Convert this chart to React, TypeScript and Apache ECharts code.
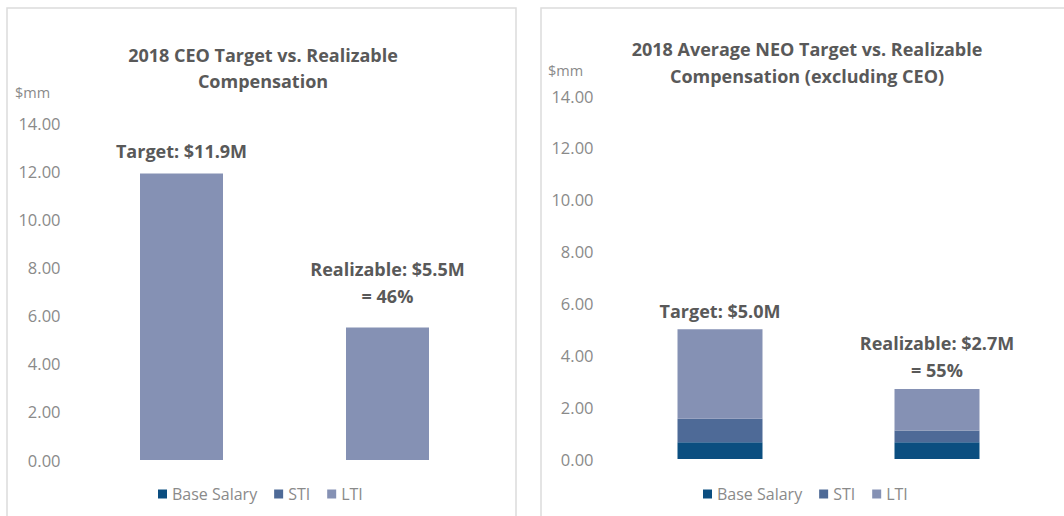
import React, { useEffect, useRef } from "react";
import * as echarts from "echarts";

const categories = ["Target", "Realizable"];
const seriesNames = ["Base Salary", "STI", "LTI"];

// CEO chart (single colour bars)
const ceoBase = [0, 0];
const ceoSti = [0, 0];
const ceoLti = [11.9, 5.5];
const ceoLabels = ["Target: $11.9M", "Realizable: $5.5M\n= 46%"];

// Average NEO chart
const neoBase = [0.65, 0.65];
const neoSti = [0.9, 0.45];
const neoLti = [3.45, 1.6];
const neoLabels = ["Target: $5.0M", "Realizable: $2.7M\n= 55%"];

const yTicks = { min: 0, max: 14, interval: 2 };

const colors = ["#0b4e80", "#4e6a97", "#8591b4"];
const FONT = "Open Sans";
const titleColor = "#595959";
const axisColor = "#8a8a8a";

export default function App() {
  const ref = useRef<HTMLDivElement>(null);
  useEffect(() => {
    if (!ref.current) return;
    const chart = echarts.init(ref.current, null, { renderer: "svg" });

    const mkSeries = (
      grid: number,
      stack: string,
      values: number[][],
      labels: string[],
      distances: number[]
    ) =>
      values.map((vals, i) => ({
        name: seriesNames[i],
        type: "bar",
        stack,
        xAxisIndex: grid,
        yAxisIndex: grid,
        barWidth: grid === 0 ? 83 : 85,
        itemStyle: { color: colors[i] },
        data: vals.map((v, j) =>
          i === values.length - 1
            ? {
                value: v,
                label: {
                  show: true,
                  position: "top",
                  distance: distances[j],
                  formatter: labels[j],
                  fontFamily: FONT,
                  fontWeight: "bold",
                  fontSize: 18,
                  lineHeight: 27,
                  color: titleColor,
                },
              }
            : v
        ),
      }));

    const mkX = (grid: number) => ({
      type: "category",
      gridIndex: grid,
      data: categories,
      axisLine: { show: false },
      axisTick: { show: false },
      axisLabel: { show: false },
    });
    const mkY = (grid: number) => ({
      type: "value",
      gridIndex: grid,
      min: yTicks.min,
      max: yTicks.max,
      interval: yTicks.interval,
      splitLine: { show: false },
      axisLine: { show: false },
      axisTick: { show: false },
      axisLabel: {
        formatter: (v: number) => v.toFixed(2),
        fontFamily: FONT,
        fontSize: 16.5,
        color: axisColor,
        margin: 18,
      },
    });

    const legendCommon = {
      data: seriesNames,
      icon: "rect",
      itemWidth: 9,
      itemHeight: 9,
      itemGap: 17,
      textStyle: { fontFamily: FONT, fontSize: 16, color: axisColor, padding: [0, 0, 0, 0] },
    };

    chart.setOption({
      animation: false,
      title: [
        {
          text: "2018 CEO Target vs. Realizable\nCompensation",
          left: 258,
          top: 37,
          textAlign: "center",
          textStyle: { fontFamily: FONT, fontWeight: "bold", fontSize: 18, lineHeight: 26, color: titleColor },
        },
        {
          text: "2018 Average NEO Target vs. Realizable\nCompensation (excluding CEO)",
          left: 802,
          top: 30,
          textAlign: "center",
          textStyle: { fontFamily: FONT, fontWeight: "bold", fontSize: 18, lineHeight: 27, color: titleColor },
        },
      ],
      legend: [
        { ...legendCommon, left: 153, top: 481 },
        { ...legendCommon, left: 698, top: 481 },
      ],
      grid: [
        { left: 78.5, width: 412, top: 123, height: 337 },
        { left: 611.5, width: 434, top: 96, height: 363 },
      ],
      xAxis: [mkX(0), mkX(1)],
      yAxis: [mkY(0), mkY(1)],
      series: [
        ...mkSeries(0, "ceo", [ceoBase, ceoSti, ceoLti], ceoLabels, [9.5, 18.5]),
        ...mkSeries(1, "neo", [neoBase, neoSti, neoLti], neoLabels, [4.5, 5.5]),
      ],
      graphic: [
        { type: "rect", shape: { x: 7, y: 8, width: 509, height: 540 }, style: { fill: "none", stroke: "#dcdcdc", lineWidth: 1.5 }, silent: true },
        { type: "rect", shape: { x: 541, y: 8, width: 560, height: 540 }, style: { fill: "none", stroke: "#dcdcdc", lineWidth: 1.5 }, silent: true },
        { type: "text", left: 15, top: 85, style: { text: "$mm", fontFamily: FONT, fontSize: 14.5, fill: axisColor } },
        { type: "text", left: 548, top: 63, style: { text: "$mm", fontFamily: FONT, fontSize: 14.5, fill: axisColor } },
      ],
    });
    return () => chart.dispose();
  }, []);
  return (
    <div
      ref={ref}
      style={{ position: "fixed", left: 0, top: 0, width: 1064, height: 516, background: "#fff" }}
    />
  );
}
